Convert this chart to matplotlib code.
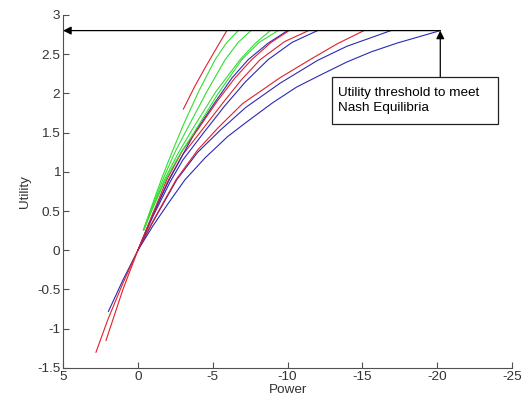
import matplotlib
matplotlib.use('Agg')
import matplotlib.pyplot as plt
from matplotlib.patches import Rectangle

plt.rcParams['font.family'] = ['Liberation Sans', 'DejaVu Sans']

# curves: (power, utility) points
r1_x = [-3.04, -3.8, -4.5, -5.2, -5.94]
r1_y = [1.80, 2.09, 2.33, 2.56, 2.80]

g1_x = [-0.37, -0.9, -1.6, -2.3, -3.04, -4.1, -5.16, -5.9, -6.7]
g1_y = [0.26, 0.55, 0.92, 1.26, 1.60, 2.04, 2.43, 2.64, 2.80]
g2_x = [-0.37, -0.95, -1.71, -2.5, -3.38, -4.6, -5.83, -6.7, -7.55]
g2_y = [0.26, 0.55, 0.92, 1.26, 1.58, 2.02, 2.43, 2.65, 2.80]
g3_x = [-0.4, -1.0, -1.8, -2.7, -3.6, -5.2, -6.83, -7.8, -8.84]
g3_y = [0.26, 0.55, 0.91, 1.24, 1.53, 2.02, 2.43, 2.63, 2.80]
g4_x = [-0.4, -1.0, -1.85, -2.8, -3.75, -5.3, -6.94, -8.1, -9.37]
g4_y = [0.26, 0.54, 0.90, 1.22, 1.50, 1.98, 2.43, 2.65, 2.80]

b1_x = [0, -1, -2.1, -3, -3.9, -5.2, -6.3, -7.37, -8.7, -10.0]
b1_y = [0, 0.46, 0.90, 1.22, 1.53, 1.90, 2.20, 2.43, 2.64, 2.80]
r2_x = [0, -1, -1.93, -3, -4.04, -5.3, -6.5, -7.6, -8.9, -10.1]
r2_y = [0, 0.47, 0.90, 1.28, 1.55, 1.90, 2.20, 2.43, 2.65, 2.80]
r3_x = [2.13, 1, 0, -1, -2.0, -3, -4.27, -5.6, -6.9, -8.17, -9.8, -11.4]
r3_y = [-1.15, -0.50, 0, 0.45, 0.88, 1.22, 1.53, 1.86, 2.17, 2.43, 2.66, 2.80]
b2_x = [0, -1, -2.15, -3, -4.4, -5.8, -7.2, -8.7, -10.3, -12.0]
b2_y = [0, 0.43, 0.87, 1.15, 1.50, 1.84, 2.15, 2.43, 2.65, 2.80]
r4_x = [2.8, 2, 1, 0, -1, -2.55, -4, -5.4, -7, -9.5, -11.5, -13.3, -15.1]
r4_y = [-1.30, -0.88, -0.42, 0, 0.37, 0.90, 1.28, 1.57, 1.87, 2.20, 2.43, 2.63, 2.80]
b3_x = [1.97, 1, 0, -1, -2.6, -4, -5.5, -7.2, -9.5, -12, -13.96, -16.9]
b3_y = [-0.78, -0.38, 0, 0.36, 0.90, 1.25, 1.53, 1.82, 2.13, 2.42, 2.60, 2.80]
b4_x = [0, -1, -2, -3.15, -4.5, -6, -7.3, -9, -10.6, -12.05, -13.96, -15.6, -17.3, -20.2]
b4_y = [0, 0.31, 0.59, 0.90, 1.18, 1.45, 1.64, 1.88, 2.08, 2.22, 2.40, 2.53, 2.64, 2.80]

threshold = 2.8
p_eq = -20.2

red = '#e0202a'
green = '#33dd33'
blue = '#2a2ab4'

fig = plt.figure(figsize=(5.21, 4.03), dpi=100)
ax = fig.add_axes([0.121, 0.087, 0.862, 0.876])

for xs, ys, c in [(b4_x, b4_y, blue), (b3_x, b3_y, blue), (r4_x, r4_y, red),
                  (b2_x, b2_y, blue), (r3_x, r3_y, red), (b1_x, b1_y, blue),
                  (r2_x, r2_y, red), (g4_x, g4_y, green), (g3_x, g3_y, green),
                  (g2_x, g2_y, green), (g1_x, g1_y, green), (r1_x, r1_y, red)]:
    ax.plot(xs, ys, color=c, lw=0.8)

ax.annotate('', xy=(5, threshold), xytext=(p_eq, threshold),
            arrowprops=dict(arrowstyle='-|>', color='black', lw=0.9,
                            mutation_scale=12, shrinkA=0, shrinkB=0))
ax.annotate('', xy=(p_eq, threshold), xytext=(p_eq, 2.213),
            arrowprops=dict(arrowstyle='-|>', color='black', lw=0.9,
                            mutation_scale=12, shrinkA=0, shrinkB=0))
ax.add_patch(Rectangle((-12.96, 1.61), -11.07, 0.603, fill=False,
                       ec='#222222', lw=0.9))
ax.text(-13.4, 1.91, 'Utility threshold to meet\nNash Equilibria',
        fontsize=9.7, va='center', ha='left', linespacing=1.25)

ax.set_xlim(5, -25)
ax.set_ylim(-1.5, 3)
ax.set_xticks([5, 0, -5, -10, -15, -20, -25])
ax.set_xticklabels(['5', '0', '-5', '-10', '-15', '-20', '-25'])
ax.set_yticks([-1.5, -1, -0.5, 0, 0.5, 1, 1.5, 2, 2.5, 3])
ax.set_yticklabels(['-1.5', '-1', '-0.5', '0', '0.5', '1', '1.5', '2', '2.5', '3'])
ax.spines['top'].set_visible(False)
ax.spines['right'].set_visible(False)
for s in ['left', 'bottom']:
    ax.spines[s].set_color('#505050')
ax.tick_params(direction='in', length=4, color='#505050', labelsize=9.7,
               labelcolor='#333333', pad=2)
ax.set_xlabel('Power', fontsize=9.7, color='#333333', labelpad=1)
ax.set_ylabel('Utility', fontsize=9.7, color='#333333', labelpad=4)

fig.savefig('out.png', dpi=100)
